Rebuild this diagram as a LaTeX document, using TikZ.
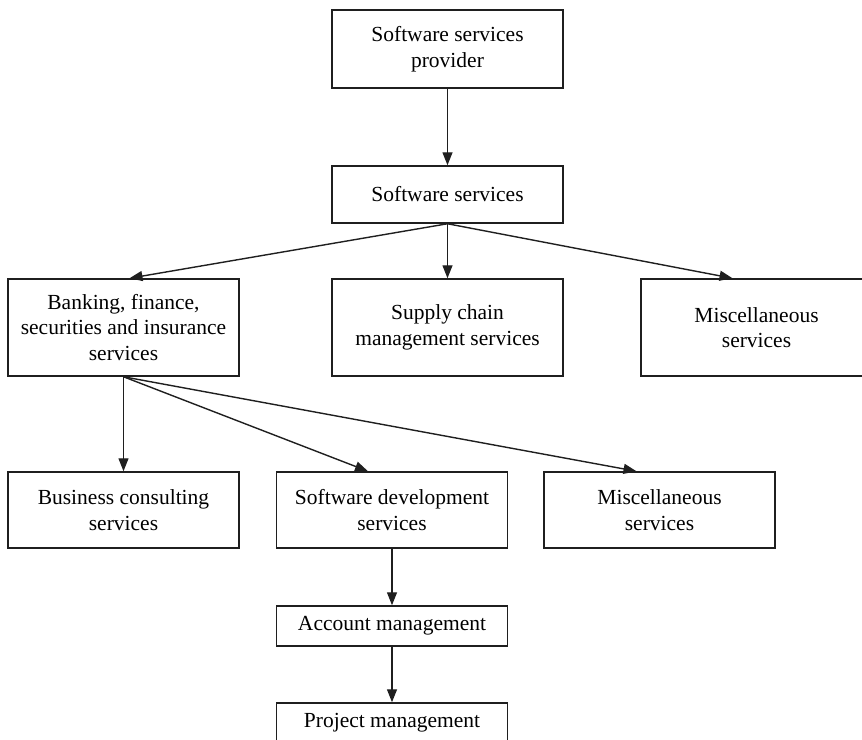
\documentclass[tikz,border=0pt]{standalone}
\usepackage{fontspec}
\setmainfont{Liberation Serif}
\usepackage{tikz}
\usetikzlibrary{arrows.meta,positioning}

\begin{document}
\begin{tikzpicture}[
  x=1pt, y=-1pt,
  font=\fontsize{21.5}{25.5}\selectfont,
  unit/.style={draw=black!88, line width=1.5pt, align=center, inner sep=2pt, minimum width=231pt},
  wide/.style={unit, minimum height=78pt},
  tall/.style={unit, minimum height=97pt},
  flat/.style={unit, minimum height=40pt},
  arr/.style={-{Triangle[length=13pt, width=10pt]}, line width=1.4pt, draw=black!88},
]
\clip (0,0) rectangle (862,739);
\node[wide] (prov) at (447.5, 49) {Software services\\provider};
\node[unit, minimum height=57pt] (soft) at (447.5, 194.5) {Software services};
% service lines
\node[tall] (bank) at (123.5, 327.5) {Banking, finance,\\securities and insurance\\services};
\node[tall] (supply) at (447.5, 327.5) {Supply chain\\management services};
\node[tall] (misc) at (756.5, 327.5) {Miscellaneous\\services};
% banking sub-services
\node[unit, minimum height=76pt] (consult) at (123.5, 510) {Business consulting\\services};
\node[unit, minimum height=76pt] (devel) at (392, 510) {Software development\\services};
\node[unit, minimum height=76pt] (other) at (659.5, 510) {Miscellaneous\\services};
\node[flat] (acct) at (392, 626) {Account management};
\node[flat] (proj) at (392, 723) {Project management};
\draw[arr] (prov) -- (soft);
\draw[arr] (soft.south) -- ([xshift=6pt]bank.north);
\draw[arr] (soft.south) -- (supply.north);
\draw[arr] (soft.south) -- ([xshift=-24pt]misc.north);
\draw[arr] (bank.south) -- (consult.north);
\draw[arr] (bank.south) -- ([xshift=-24pt]devel.north);
\draw[arr] (bank.south) -- ([xshift=-23pt]other.north);
\draw[arr] (devel) -- (acct);
\draw[arr] (acct) -- (proj);
\end{tikzpicture}
\end{document}
